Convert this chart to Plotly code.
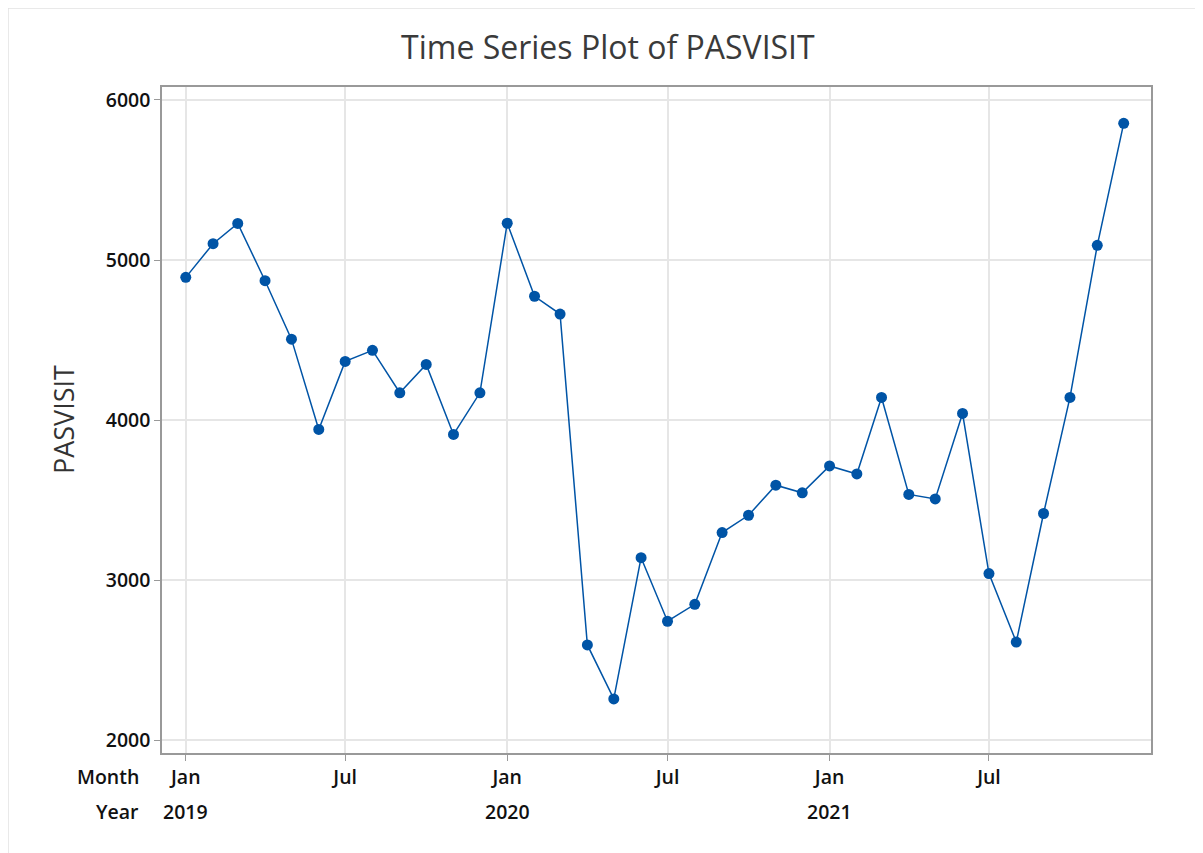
import pandas as pd
import plotly.graph_objects as go

# ---- data ----
months = pd.date_range("2019-01-01", periods=36, freq="MS")
pasvisit_2019 = [4892, 5102, 5229, 4871, 4506, 3942, 4367, 4436, 4171, 4348, 3911, 4171]
pasvisit_2020 = [5230, 4774, 4663, 2596, 2259, 3141, 2744, 2850, 3298, 3406, 3594, 3546]
pasvisit_2021 = [3714, 3664, 4142, 3536, 3508, 4042, 3042, 2614, 3417, 4142, 5092, 5854]
pasvisit = pasvisit_2019 + pasvisit_2020 + pasvisit_2021

month_tick_dates = ["2019-01-01", "2019-07-01", "2020-01-01", "2020-07-01", "2021-01-01", "2021-07-01"]
month_tick_labels = ["Jan", "Jul", "Jan", "Jul", "Jan", "Jul"]
year_dates = ["2019-01-01", "2020-01-01", "2021-01-01"]
year_labels = ["2019", "2020", "2021"]
y_ticks = [2000, 3000, 4000, 5000, 6000]

BLUE = "#0054A6"
FONT = "Open Sans"
TXT = "#111111"
TICKFONT = dict(family=FONT, size=19.5, color=TXT, weight=600)

fig = go.Figure()
fig.add_trace(go.Scatter(
    x=months, y=pasvisit, mode="lines+markers",
    line=dict(color=BLUE, width=1.5),
    marker=dict(color=BLUE, size=11),
    showlegend=False,
))

annotations = []
for d, t in zip(year_dates, year_labels):
    annotations.append(dict(x=d, y=-0.0871, xref="x", yref="paper", text=t,
                            showarrow=False, xanchor="center", yanchor="middle",
                            font=TICKFONT))
annotations.append(dict(x=-0.0212, y=-0.0360, xref="paper", yref="paper", text="Month",
                        showarrow=False, xanchor="right", yanchor="middle",
                        font=TICKFONT))
annotations.append(dict(x=-0.0212, y=-0.0871, xref="paper", yref="paper", text="Year",
                        showarrow=False, xanchor="right", yanchor="middle",
                        font=TICKFONT))
annotations.append(dict(x=-0.1001, y=0.5, xref="paper", yref="paper", text="PASVISIT",
                        showarrow=False, xanchor="center", yanchor="middle", textangle=-90,
                        font=dict(family=FONT, size=27, color="#333333")))

shapes = [
    dict(type="rect", xref="paper", yref="paper", x0=-0.1557, x1=1.3, y0=-0.5, y1=1.1186,
         line=dict(color="#e2e2e2", width=1.5), fillcolor="rgba(0,0,0,0)", layer="below"),
]

fig.update_layout(
    width=1195, height=845,
    margin=dict(l=154, r=52, t=79, b=100),
    paper_bgcolor="white", plot_bgcolor="white",
    title=dict(text="Time Series Plot of PASVISIT", x=0.502, xanchor="center",
               y=1 - 40 / 845, yanchor="middle",
               font=dict(family=FONT, size=32, color="#3a3a3a")),
    font=dict(family=FONT, size=20, color=TXT),
    annotations=annotations,
    shapes=shapes,
)
fig.update_xaxes(
    type="date",
    range=["2018-12-05", "2022-01-01"],
    tickvals=month_tick_dates, ticktext=month_tick_labels,
    ticks="outside", ticklen=6, tickcolor="#999999",
    showgrid=True, gridcolor="#e6e6e6", gridwidth=1.5,
    showline=True, linecolor="#999999", linewidth=1.5, mirror=True,
    zeroline=False,
    tickfont=TICKFONT,
)
fig.update_yaxes(
    range=[1921, 6081],
    tickvals=y_ticks,
    ticks="outside", ticklen=6, tickcolor="#999999",
    showgrid=True, gridcolor="#e6e6e6", gridwidth=1.5,
    showline=True, linecolor="#999999", linewidth=1.5, mirror=True,
    zeroline=False,
    tickfont=TICKFONT,
)

fig.write_html("out.html")
